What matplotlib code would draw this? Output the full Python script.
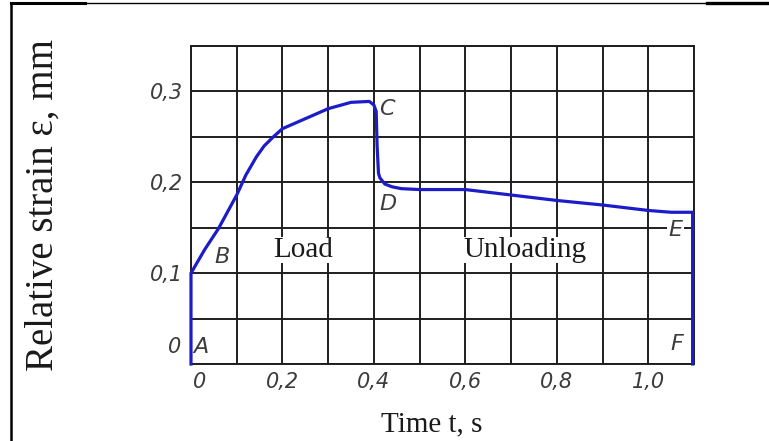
import numpy as np
import matplotlib
matplotlib.use("Agg")
import matplotlib.pyplot as plt
from matplotlib.lines import Line2D
from matplotlib.transforms import ScaledTranslation

# ---- data ----
time_s = [0, 0, 0.03, 0.06, 0.10, 0.12, 0.143, 0.16, 0.18, 0.20, 0.25, 0.30, 0.35,
          0.39, 0.40, 0.405, 0.407, 0.410, 0.413, 0.424, 0.44, 0.46, 0.50, 0.60,
          0.70, 0.80, 0.90, 1.00, 1.05, 1.097, 1.097]
strain = [0, 0.100, 0.126, 0.149, 0.186, 0.208, 0.228, 0.240, 0.250, 0.259, 0.270,
          0.281, 0.288, 0.289, 0.285, 0.278, 0.240, 0.210, 0.205, 0.198, 0.195,
          0.193, 0.192, 0.192, 0.186, 0.180, 0.175, 0.169, 0.167, 0.167, 0]

x_grid = [0.0, 0.1, 0.2, 0.3, 0.4, 0.5, 0.6, 0.7, 0.8, 0.9, 1.0, 1.1]
x_labels = ["0", "", "0,2", "", "0,4", "", "0,6", "", "0,8", "", "1,0", ""]
y_grid = [0.0, 0.05, 0.10, 0.15, 0.20, 0.25, 0.30, 0.35]
y_labels = ["", "", "0,1", "", "0,2", "", "0,3", ""]

point_names = ["A", "B", "C", "D", "E", "F"]
point_pos = [(0.022, 0.019), (0.068, 0.118), (0.428, 0.281), (0.430, 0.176),
             (1.060, 0.147), (1.063, 0.022)]

# ---- style ----
tick_font = dict(family=["Liberation Sans Narrow", "DejaVu Sans"], style="italic",
                 color="#3c3c3c")
serif = ["Liberation Serif", "DejaVu Serif"]
curve_color = "#1c1cc8"
grid_color = "#1e1e1e"

fig = plt.figure(figsize=(7.69, 4.41), dpi=100)
fig.patch.set_facecolor("white")
ax = fig.add_axes([191 / 769, 1 - 364 / 441, (694 - 191) / 769, (364 - 46) / 441])

ax.set_xlim(0, 1.1)
ax.set_ylim(0, 0.35)
ax.set_xticks(x_grid)
ax.set_xticklabels(x_labels, fontsize=15, **tick_font)
ax.set_yticks(y_grid)
ax.set_yticklabels(y_labels, fontsize=15, **tick_font)
ax.tick_params(length=0, pad=6)
ax.grid(True, color=grid_color, linewidth=1.4)
ax.set_axisbelow(True)
for sp in ax.spines.values():
    sp.set_color(grid_color)
    sp.set_linewidth(1.4)

# shift "0" x-label slightly right
lbl0 = ax.get_xticklabels()[0]
lbl0.set_transform(lbl0.get_transform() + ScaledTranslation(9 / 100, 0, fig.dpi_scale_trans))

# "0" label on y axis, placed just above the bottom
ax.text(-0.035, 0.019, "0", fontsize=15, ha="center", va="center", **tick_font)

ax.plot(time_s, strain, color=curve_color, linewidth=2.3, solid_joinstyle="round",
        clip_on=False, zorder=5)

for name, (px, py) in zip(point_names, point_pos):
    kw = {}
    if name == "E":
        kw["bbox"] = dict(facecolor="white", edgecolor="none", pad=1)
    ax.text(px, py, name, fontsize=16, ha="center", va="center", zorder=6,
            **tick_font, **kw)

ax.text(0.245, 0.125, "Load", fontsize=21, family=serif, ha="center", va="center",
        color="#1a1a1a", bbox=dict(facecolor="white", edgecolor="none", pad=0))
ax.text(0.73, 0.126, "Unloading", fontsize=21, family=serif, ha="center", va="center",
        color="#1a1a1a", bbox=dict(facecolor="white", edgecolor="none", pad=0))

ax.set_xlabel("Time t, s", fontsize=21, family=serif, color="#1a1a1a")
ax.xaxis.set_label_coords((432 - 191) / (694 - 191), -(424 - 364) / (364 - 46))
ax.xaxis.label.set_va("center")
ax.set_ylabel("Relative strain \u03b5, mm", fontsize=28, family=serif, color="#1a1a1a")
ax.yaxis.set_label_coords(-(191 - 43) / (694 - 191), 0.5)
ax.yaxis.label.set_va("center")

# page frame lines
fig.add_artist(Line2D([11 / 769, 11 / 769], [0, 1 - 3 / 441], color="black", linewidth=1.8))
fig.add_artist(Line2D([11 / 769, 85 / 769], [1 - 3 / 441] * 2, color="black", linewidth=2.2))
fig.add_artist(Line2D([85 / 769, 707 / 769], [1 - 3 / 441] * 2, color="black", linewidth=1.0))
fig.add_artist(Line2D([707 / 769, 1], [1 - 3 / 441] * 2, color="black", linewidth=2.4))

fig.savefig("out.png", dpi=100, facecolor="white")
